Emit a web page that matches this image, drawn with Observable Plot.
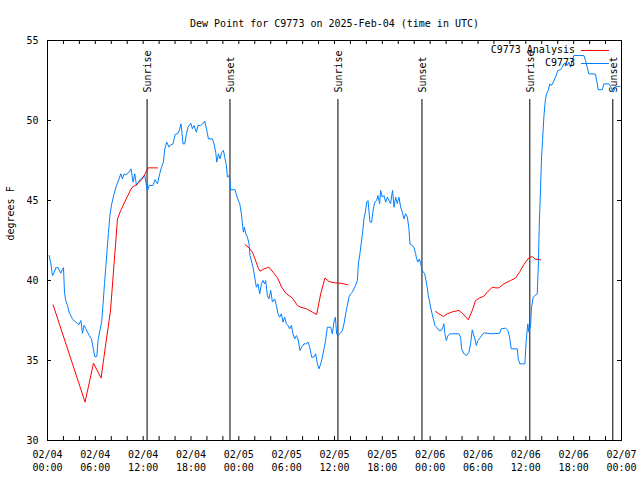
<!DOCTYPE html>
<html><head><meta charset="utf-8">
<script src="https://cdn.jsdelivr.net/npm/d3@7"></script>
<script src="https://cdn.jsdelivr.net/npm/@observablehq/plot@0.6"></script>
<style>
body{margin:0;background:#fff}
#wrap{position:relative;width:640px;height:480px}
#legend{position:absolute;left:0;top:0;pointer-events:none}
</style>
</head><body><div id="wrap"></div>
<script>
const title = "Dew Point for C9773 on 2025-Feb-04 (time in UTC)";
const yLabel = "degrees F";
const seriesNames = ["C9773 Analysis", "C9773"];
const seriesColors = ["#ff0000", "#0080ff"];
const startUTC = Date.UTC(2025, 1, 4, 0, 0);
const spanHours = 72;
const yTicks = [30, 35, 40, 45, 50, 55];
const majorTickHours = [0, 6, 12, 18, 24, 30, 36, 42, 48, 54, 60, 66, 72];
const minorTickHours = [2,4,6,8,10,12,14,16,18,20,22,24,26,28,30,32,34,36,38,40,42,44,46,48,50,52,54,56,58,60,62,64,66,68,70];
const sunHours = [12.49, 22.89, 36.43, 46.97, 60.50, 70.91];
const sunLabels = ["Sunrise", "Sunset", "Sunrise", "Sunset", "Sunrise", "Sunset"];

const obsHours = [0.20,0.41,0.63,0.83,1.04,1.33,1.67,1.88,2.01,2.13,2.29,2.51,2.71,3.13,3.55,3.96,4.18,4.39,4.59,4.80,5.02,5.22,5.52,5.72,5.93,6.18,6.34,6.59,6.81,6.97,7.15,7.31,7.47,7.65,7.85,8.06,8.35,8.65,8.98,9.19,9.40,9.60,9.82,10.23,10.48,10.73,10.95,11.16,11.41,11.70,11.91,12.20,12.45,12.54,12.74,13.24,13.49,13.79,14.08,14.29,14.54,14.71,14.96,15.25,15.46,15.75,16.00,16.37,16.59,16.75,16.88,17.00,17.21,17.43,17.63,17.97,18.18,18.38,18.68,18.88,19.22,19.47,19.72,19.94,20.19,20.69,20.89,21.10,21.23,21.44,21.64,21.85,22.07,22.23,22.44,22.57,22.73,22.89,22.98,23.52,23.82,24.11,24.32,24.45,24.57,24.70,24.86,25.08,25.28,25.40,25.62,25.78,25.99,26.20,26.40,26.62,26.83,27.03,27.24,27.37,27.58,27.78,28.00,28.21,28.50,28.71,28.91,29.12,29.34,29.54,29.75,29.96,30.17,30.38,30.59,30.79,31.01,31.22,31.42,31.67,31.88,32.17,32.47,32.67,32.89,33.14,33.43,33.64,33.85,34.05,34.27,34.48,34.68,34.89,35.10,35.52,35.73,35.93,36.11,36.27,36.43,36.77,36.99,37.19,37.40,37.61,37.81,38.03,38.24,38.44,38.65,38.87,38.99,39.19,39.37,39.53,39.69,39.91,40.03,40.20,40.32,40.45,40.66,40.87,41.07,41.28,41.45,41.66,41.79,42.00,42.20,42.42,42.63,42.83,43.04,43.17,43.29,43.46,43.67,43.88,44.08,44.30,44.51,44.71,44.92,45.14,45.34,45.46,45.76,45.96,46.18,46.30,46.47,46.64,46.80,46.97,47.31,47.56,47.77,47.98,48.19,48.40,48.60,48.81,49.10,49.40,49.60,49.72,49.85,50.03,50.23,50.48,51.61,51.82,51.94,52.23,52.57,52.86,53.07,53.28,53.41,53.61,53.79,53.99,54.33,54.61,54.83,55.67,56.71,56.92,57.46,57.75,57.96,58.17,58.93,59.05,59.25,59.88,60.05,60.25,60.38,60.59,60.72,60.93,61.43,61.56,61.68,61.85,61.97,62.10,62.26,62.44,62.60,62.81,63.01,63.23,63.44,63.73,64.02,64.35,64.56,64.77,64.98,65.19,65.40,65.61,65.82,66.02,67.28,67.49,67.70,67.90,68.74,68.96,69.08,69.58,69.79,70.42,70.63,70.97,71.26,71.80];
const obsTemps = [41.56,41.1,40.3,40.5,40.8,40.8,40.45,40.7,40.8,39.27,38.75,38.44,38.02,37.6,37.4,37.25,37.5,36.7,37.2,37.0,36.77,36.56,36.35,35.79,35.25,35.25,36.25,36.9,37.5,38.54,39.8,40.83,41.9,43.0,44.17,44.8,45.4,45.94,46.35,46.67,46.35,46.67,46.6,46.77,46.98,46.15,46.67,45.94,46.15,46.35,46.46,46.56,45.83,45.6,45.94,45.94,46.3,46.04,46.67,47.08,47.4,48.23,48.65,48.33,48.48,48.54,49.12,49.2,49.48,49.79,49.17,48.54,48.54,49.17,49.58,49.83,49.48,49.69,49.27,49.69,49.69,49.79,49.96,49.48,48.85,48.85,48.54,48.02,47.4,47.92,47.6,48.02,48.13,47.7,47.19,46.46,46.56,46.25,45.67,45.67,45.15,44.8,44.17,43.54,43.02,43.33,42.92,42.71,42.29,41.56,41.15,40.83,40.21,39.58,39.79,39.17,39.79,40.0,39.79,40.0,39.06,38.85,39.38,38.65,38.85,38.44,37.92,37.71,37.92,37.4,37.71,37.29,37.19,36.98,37.19,36.67,36.35,36.56,36.35,35.63,35.83,36.04,36.04,36.15,35.83,35.21,35.21,35.42,34.79,34.48,34.79,35.21,35.73,36.25,37.08,37.08,36.67,37.4,37.71,36.67,36.56,36.71,36.88,37.29,37.92,38.44,38.96,39.17,39.27,39.48,39.69,40.0,41.04,41.67,42.4,43.02,43.85,44.38,44.9,45.0,44.38,43.65,43.65,44.48,44.9,45.0,45.31,44.8,45.63,45.21,45.31,44.9,45.21,45.0,44.8,45.31,45.63,44.58,45.21,44.8,45.21,44.58,44.27,43.85,44.17,43.96,43.23,42.29,42.19,42.08,41.67,41.35,41.15,41.35,41.1,40.65,40.42,39.79,39.06,38.54,38.02,37.6,37.19,37.08,36.88,36.88,37.08,37.29,36.67,36.25,36.56,36.67,36.67,36.46,35.73,35.42,35.31,35.52,36.04,36.92,36.67,36.35,35.94,36.25,36.46,36.67,36.73,36.67,36.7,36.98,37.02,36.88,36.46,35.73,35.73,35.1,34.79,34.79,36.25,37.29,36.77,37.19,38.33,38.96,39.17,40.83,43.33,45.83,47.71,48.75,50.21,51.25,51.67,51.88,52.29,52.19,52.4,52.71,53.13,53.17,53.33,53.54,53.58,53.44,53.65,53.33,53.75,54.06,54.06,53.75,53.33,52.92,52.9,52.29,51.92,51.92,52.29,52.29,52.13,51.77,52.13,52.13];

const anaHours = [0.70,4.71,5.77,6.72,7.31,7.90,8.35,8.78,9.19,9.81,10.56,11.28,11.91,12.24,12.61,13.79,19.0,24.77,25.28,25.70,26.03,26.40,26.66,27.17,27.78,28.29,28.84,29.38,29.88,30.72,31.35,31.76,32.48,33.23,33.76,34.27,34.80,35.30,36.06,36.77,37.19,37.69,43.0,48.68,49.10,49.65,50.15,50.78,51.61,52.03,52.78,53.28,53.70,54.24,54.74,55.17,55.79,56.21,56.62,57.25,58.09,58.71,59.25,59.76,60.38,60.80,61.22,61.85];
const anaTemps = [38.48,32.4,34.83,33.9,36.04,38.1,41.04,43.85,44.38,45.04,45.79,46.04,46.35,46.67,47.04,47.04,null,42.25,42.04,41.77,41.35,40.83,40.58,40.73,40.83,40.52,40.17,39.58,39.21,38.9,38.44,38.33,38.23,38.02,37.88,39.17,40.15,39.94,39.85,39.83,39.79,39.73,null,38.06,37.92,37.75,37.92,38.04,38.13,37.96,37.54,38.13,38.75,38.92,39.02,39.27,39.58,39.54,39.54,39.79,40.0,40.15,40.56,41.0,41.42,41.5,41.33,41.29];

const toDate = h => new Date(startUTC + h * 3600000);
const obs = obsHours.map((h, i) => ({t: toDate(h), v: obsTemps[i]}));
const ana = anaHours.map((h, i) => ({t: toDate(h), v: anaTemps[i]}));
const sun = sunHours.map((h, i) => ({t: toDate(h), label: sunLabels[i]}));
const majorTicks = majorTickHours.map(toDate);
const minorTicks = minorTickHours.map(toDate);
const fmtDay = d3.utcFormat("%m/%d"), fmtTime = d3.utcFormat("%H:%M");

const chart = Plot.plot({
  width: 640, height: 480,
  marginLeft: 47, marginRight: 19, marginTop: 40, marginBottom: 40,
  style: {fontFamily: "'DejaVu Sans Mono', monospace", fontSize: "10px", background: "#fff", color: "#000", overflow: "visible"},
  x: {type: "utc", domain: [toDate(0), toDate(spanHours)], label: null},
  y: {domain: [30, 55], label: null},
  marks: [
    Plot.ruleX(minorTicks, {x: d => d, insetTop: 396, stroke: "#000"}),
    Plot.ruleX(minorTicks, {x: d => d, insetBottom: 396, stroke: "#000"}),
    Plot.ruleY(yTicks, {y: d => d, insetRight: 570, stroke: "#000"}),
    Plot.ruleY(yTicks, {y: d => d, insetLeft: 570, stroke: "#000"}),
    Plot.axisX(majorTicks, {tickSize: 0, tickPadding: 8, label: null, lineHeight: 1.3,
      tickFormat: d => fmtDay(d) + "\n" + fmtTime(d)}),
    Plot.axisY(yTicks, {tickSize: 0, tickPadding: 9, label: null}),
    Plot.ruleX(sun, {x: "t", insetTop: 59, stroke: "#000"}),
    Plot.text(sun, {x: "t", text: "label", frameAnchor: "top", rotate: -90, textAnchor: "start", dy: 52, dx: -3, fill: "#000"}),
    Plot.line(obs, {x: "t", y: "v", stroke: seriesColors[1], strokeWidth: 1}),
    Plot.line(ana, {x: "t", y: "v", stroke: seriesColors[0], strokeWidth: 1}),
    Plot.frame({stroke: "#000"}),
    Plot.text([title], {text: d => d, frameAnchor: "top", dy: -21, fill: "#000"}),
    Plot.text([yLabel], {text: d => d, frameAnchor: "left", rotate: -90, dx: -37, fill: "#000"})
  ]
});
const wrap = document.getElementById("wrap");
wrap.appendChild(chart);

// legend overlay (top-right, inside the frame)
const ns = "http://www.w3.org/2000/svg";
const lg = document.createElementNS(ns, "svg");
lg.setAttribute("id", "legend");
lg.setAttribute("width", 640); lg.setAttribute("height", 480);
seriesNames.forEach((name, i) => {
  const y = 49.5 + i * 13;
  const t = document.createElementNS(ns, "text");
  t.setAttribute("x", 575); t.setAttribute("y", y);
  t.setAttribute("text-anchor", "end"); t.setAttribute("dy", "0.32em");
  t.setAttribute("font-family", "'DejaVu Sans Mono', monospace");
  t.setAttribute("font-size", "10px");
  t.textContent = name;
  lg.appendChild(t);
  const l = document.createElementNS(ns, "line");
  l.setAttribute("x1", 581); l.setAttribute("x2", 609);
  l.setAttribute("y1", Math.round(y) + 0.5); l.setAttribute("y2", Math.round(y) + 0.5);
  l.setAttribute("stroke", seriesColors[i]);
  lg.appendChild(l);
});
wrap.appendChild(lg);
</script>
</body></html>
